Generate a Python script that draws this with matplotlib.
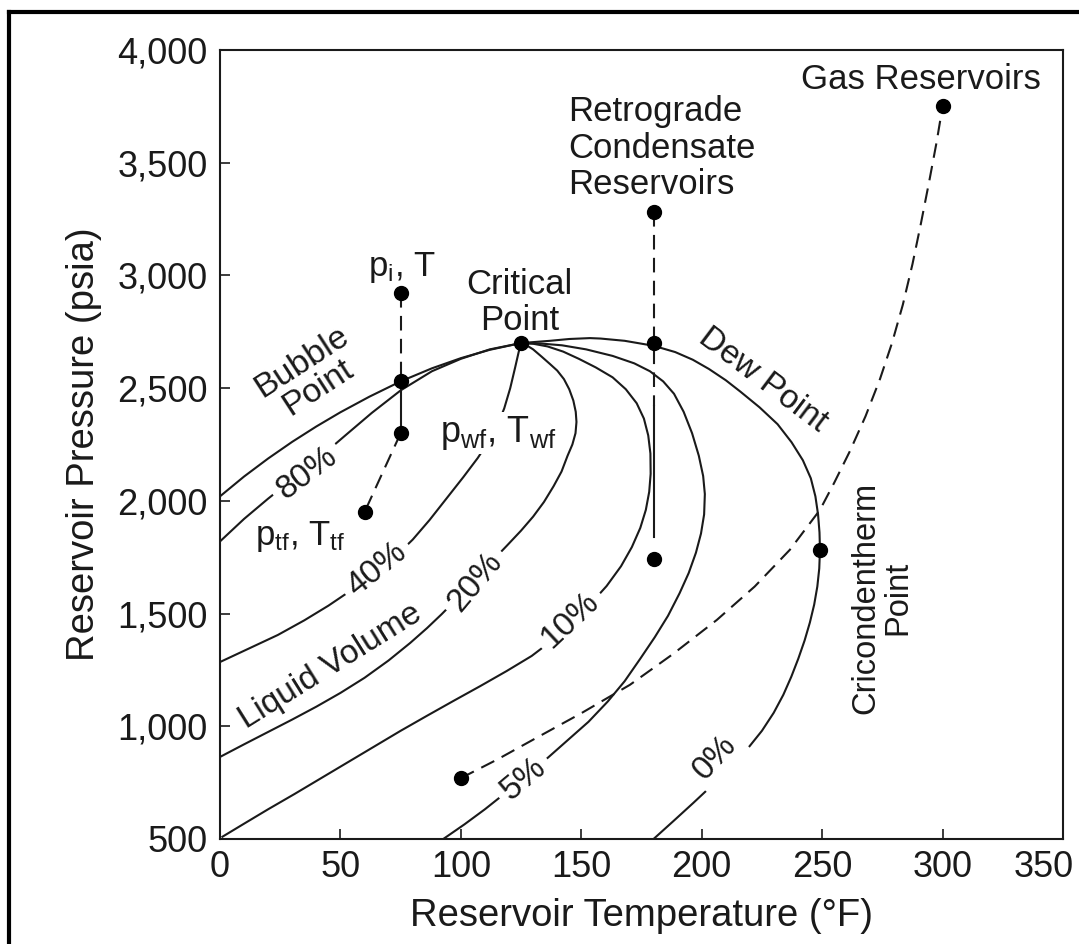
import matplotlib
matplotlib.use("Agg")
import matplotlib.pyplot as plt
import matplotlib.transforms as mtransforms
from matplotlib.lines import Line2D
from matplotlib.ticker import FuncFormatter

plt.rcParams["font.family"] = ["Liberation Sans", "DejaVu Sans"]
plt.rcParams["mathtext.fontset"] = "custom"
plt.rcParams["mathtext.rm"] = "Liberation Sans"
plt.rcParams["mathtext.it"] = "Liberation Sans:italic"

# ---------------- data (T in F, P in psia) ----------------
bubble_T = [0, 10, 20, 30, 40, 50, 62, 75, 88, 100, 112, 125]
bubble_P = [2020, 2108, 2188, 2262, 2330, 2393, 2462, 2530, 2588, 2633, 2670, 2700]

q80_T = [0, 10, 20, 30, 40, 52, 63, 75, 88, 100, 112, 125]
q80_P = [1820, 1920, 2010, 2095, 2180, 2290, 2390, 2490, 2575, 2630, 2672, 2700]

q40_T = [125, 124, 122.5, 120.5, 118, 115, 111, 107, 101, 94, 87, 80, 72, 63, 54, 45, 35, 24, 12, 0]
q40_P = [2700, 2660, 2590, 2500, 2410, 2330, 2255, 2190, 2105, 2010, 1915, 1828, 1745, 1665,
         1600, 1535, 1470, 1405, 1345, 1285]

q20_T = [125, 127, 130, 133.5, 137, 140, 142.8, 145, 146.7, 147.7, 148, 147.6, 146.3, 144.3,
         141.8, 138.5, 134.5, 130, 125, 119, 112, 104, 98, 92, 86, 79, 70, 60, 50, 40, 30, 20, 10, 0]
q20_P = [2700, 2692, 2672, 2640, 2607, 2578, 2540, 2495, 2445, 2395, 2350, 2300, 2250, 2200,
         2130, 2065, 1995, 1930, 1868, 1800, 1722, 1630, 1562, 1497, 1436, 1370, 1292, 1215,
         1148, 1087, 1030, 975, 920, 864]

q10_T = [125, 130, 136, 142.5, 149, 156, 163, 168.5, 173, 176, 177.8, 178.7, 178.8, 178.2,
         176.8, 174.5, 171, 166.5, 160.5, 154, 147, 139, 129.4, 119, 108, 97, 86, 75, 64, 53,
         42, 31, 20, 10, 1]
q10_P = [2700, 2697, 2685, 2662, 2630, 2592, 2548, 2495, 2433, 2365, 2290, 2210, 2120, 2040,
         1960, 1880, 1795, 1710, 1622, 1545, 1470, 1390, 1312, 1245, 1178, 1113, 1047, 980,
         910, 840, 770, 700, 632, 568, 510]

q05_T = [125, 133, 142, 152, 163, 172, 178.5, 184, 188.5, 192.5, 196, 198.8, 200.6, 201.3,
         201, 199.7, 197.6, 194.6, 190.8, 186, 180.5, 174.5, 168, 161, 153, 144, 135, 126,
         118, 110, 101.5, 92.7]
q05_P = [2700, 2698, 2690, 2672, 2643, 2610, 2575, 2530, 2475, 2395, 2300, 2200, 2110, 2030,
         1940, 1855, 1770, 1680, 1590, 1490, 1395, 1300, 1200, 1110, 1020, 935, 850, 770,
         700, 632, 565, 500]

dew_T = [125, 137, 145, 153.6, 158, 168, 180, 189, 196.3, 203, 210, 216, 224, 231.5, 237.3,
         242, 245.3, 247.2, 248.3, 248.9, 249.1, 248.8, 248.0, 246.7, 244.9, 242.7, 240.1,
         237.2, 233.9, 229.9, 225.0, 219.0, 212.0, 204.5, 196.5, 188.3, 180.0]
dew_P = [2700, 2710, 2718, 2722, 2720, 2710, 2688, 2660, 2626, 2585, 2535, 2485, 2415, 2340,
         2260, 2180, 2100, 2020, 1940, 1860, 1783, 1700, 1620, 1540, 1460, 1380, 1300, 1220,
         1140, 1060, 980, 900, 820, 740, 660, 580, 500]

gas_T = [100, 115, 129.9, 150, 170.2, 188, 206.3, 222, 236.6, 249.1, 255, 261.5, 268, 274,
         279, 283.5, 287.5, 291, 294.5, 297.5, 300]
gas_P = [770, 852, 940, 1058, 1184, 1320, 1472, 1620, 1783, 1960, 2080, 2220, 2375, 2540,
         2700, 2870, 3050, 3230, 3420, 3590, 3750]

# reservoir paths
oil_dash1_T, oil_dash1_P = [75, 75], [2920, 2530]
oil_solid_T, oil_solid_P = [75, 75], [2530, 2300]
oil_dash2_T, oil_dash2_P = [75, 60], [2300, 1950]
retro_dash_T, retro_dash_P = [180, 180], [3280, 2420]
retro_solid_T, retro_solid_P = [180, 180], [2420, 1840]

dots_T = [75, 75, 75, 60, 125, 180, 180, 180, 300, 249, 100]
dots_P = [2920, 2530, 2300, 1950, 2700, 3280, 2700, 1740, 3750, 1780, 770]

x_ticks = [0, 50, 100, 150, 200, 250, 300, 350]
y_ticks = [500, 1000, 1500, 2000, 2500, 3000, 3500, 4000]

# ---------------- figure ----------------
W, H = 1079, 944
fig = plt.figure(figsize=(W / 100, H / 100), dpi=100)
ax = fig.add_axes([220 / W, 1 - 839 / H, (1063 - 220) / W, (839 - 50) / H])

ink = "#1a1a1a"
lw = 1.5
dash = (0, (7, 4))

for T, P in [(bubble_T, bubble_P), (q80_T, q80_P), (q40_T, q40_P), (q20_T, q20_P),
             (q10_T, q10_P), (q05_T, q05_P), (dew_T, dew_P)]:
    ax.plot(T, P, color=ink, lw=lw, solid_joinstyle="round", zorder=2)

ax.plot(gas_T, gas_P, color=ink, lw=lw, linestyle=dash, zorder=2)
ax.plot(oil_dash1_T, oil_dash1_P, color=ink, lw=lw, linestyle=dash, zorder=2)
ax.plot(oil_solid_T, oil_solid_P, color=ink, lw=lw, zorder=2)
ax.plot(oil_dash2_T, oil_dash2_P, color=ink, lw=lw, linestyle=dash, zorder=2)
ax.plot(retro_dash_T, retro_dash_P, color=ink, lw=lw, linestyle=dash, zorder=2)
ax.plot(retro_solid_T, retro_solid_P, color=ink, lw=lw, zorder=2)

ax.plot(dots_T, dots_P, "o", color="black", ms=10, zorder=5)

# ---------------- labels ----------------
gap = dict(boxstyle="square,pad=0.2", fc="white", ec="none")
rot_kw = dict(ha="center", va="center", rotation_mode="anchor", color=ink)

ax.text(291, 3867, "Gas Reservoirs", fontsize=25, ha="center", va="center", color=ink)
ax.text(144.5, 3565, "Retrograde\nCondensate\nReservoirs", fontsize=25, ha="left",
        va="center", linespacing=1.12, color=ink)
ax.text(75.7, 3035, r"p$_\mathrm{i}$, T", fontsize=25, ha="center", va="center", color=ink)
ax.text(124.5, 2880, "Critical\nPoint", fontsize=25, ha="center", va="center",
        linespacing=1.15, color=ink)
ax.text(37.4, 2560, "Bubble\nPoint", fontsize=24.5, rotation=33, linespacing=1.0, **rot_kw)
ax.text(225.4, 2537, "Dew Point", fontsize=24, rotation=-37, **rot_kw)
ax.text(115.4, 2300, r"p$_\mathrm{wf}$, T$_\mathrm{wf}$", fontsize=26, ha="center",
        va="center", color=ink, bbox=dict(boxstyle="square,pad=0.05", fc="white", ec="none"),
        zorder=3)
ax.text(33.2, 1841, r"p$_\mathrm{tf}$, T$_\mathrm{tf}$", fontsize=25, ha="center",
        va="center", color=ink)
ax.text(36.1, 2123, "80%", fontsize=24, rotation=37, bbox=gap, zorder=3, **rot_kw)
ax.text(65.2, 1695, "40%", fontsize=24, rotation=39, bbox=gap, zorder=3, **rot_kw)
ax.text(105.9, 1641, "20%", fontsize=24, rotation=50, bbox=gap, zorder=3, **rot_kw)
ax.text(145.3, 1473, "10%", fontsize=24, rotation=43, bbox=gap, zorder=3, **rot_kw)
ax.text(126.2, 765, "5%", fontsize=24, rotation=40, bbox=gap, zorder=3, **rot_kw)
ax.text(205.5, 862, "0%", fontsize=24, rotation=47, bbox=gap, zorder=3, **rot_kw)
ax.text(45.7, 1265, "Liquid Volume", fontsize=24, rotation=32, **rot_kw)
ax.text(274.8, 1571, "Cricondentherm\nPoint", fontsize=23.5, rotation=90, linespacing=1.05,
        **rot_kw)

# ---------------- axes ----------------
ax.set_xlim(0, 350)
ax.set_ylim(500, 4000)
ax.set_xticks(x_ticks)
ax.set_yticks(y_ticks)
ax.yaxis.set_major_formatter(FuncFormatter(lambda v, p: f"{v:,.0f}"))
ax.tick_params(direction="in", length=7, width=1.2, colors=ink, labelsize=26)
ax.tick_params(axis="y", pad=9)
ax.tick_params(axis="x", pad=8)
for s in ax.spines.values():
    s.set_linewidth(1.5)
    s.set_color(ink)

# last x label sits a little left of its tick so it stays inside the frame
last = ax.get_xticklabels()[-1]
last.set_transform(last.get_transform()
                   + mtransforms.ScaledTranslation(-19 / 100, 0, fig.dpi_scale_trans))

ax.set_xlabel("Reservoir Temperature (°F)", fontsize=27.5, color=ink, labelpad=9)
ax.set_ylabel("Reservoir Pressure (psia)", fontsize=27.5, color=ink, labelpad=11)

# outer frame (cut off on the right and bottom in the reference)
fig.add_artist(Line2D([9 / W, 9 / W], [0, 1 - 11.5 / H], color="black", lw=3,
                      transform=fig.transFigure))
fig.add_artist(Line2D([9 / W, 1], [1 - 11.5 / H, 1 - 11.5 / H], color="black", lw=3,
                      transform=fig.transFigure))

fig.savefig("out.png", dpi=100, facecolor="white")
